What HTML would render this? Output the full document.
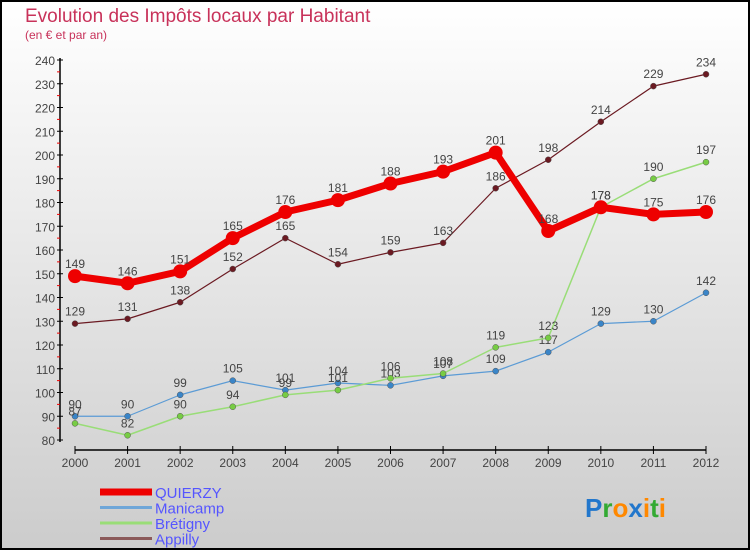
<!DOCTYPE html>
<html><head><meta charset="utf-8"><style>
body{margin:0}
#c{width:750px;height:550px;position:relative;overflow:hidden;box-sizing:border-box;border:2px solid #000;background:linear-gradient(#fff,#cccccc);font-family:"Liberation Sans",sans-serif}
</style></head><body>
<div id="c">
<svg id="s" width="750" height="550" style="position:absolute;left:-2px;top:-2px">
<text x="25" y="22" font-size="19" fill="#c8325a">Evolution des Impôts locaux par Habitant</text>
<text x="25" y="39" font-size="12" fill="#c8325a">(en € et par an)</text>
</svg>
</div>
<script>
const years=[2000,2001,2002,2003,2004,2005,2006,2007,2008,2009,2010,2011,2012];
const yTicks=[80,90,100,110,120,130,140,150,160,170,180,190,200,210,220,230,240];
const quierzy=[149,146,151,165,176,181,188,193,201,168,178,175,176];
const manicamp=[90,90,99,105,101,104,103,107,109,117,129,130,142];
const bretigny=[87,82,90,94,99,101,106,108,119,123,178,190,197];
const appilly=[129,131,138,152,165,154,159,163,186,198,214,229,234];
const svg=document.getElementById('s');const NS='http://www.w3.org/2000/svg';
function X(i){return 75+i*(706-75)/12}
function Y(v){return 440-(v-80)*380/160}
function mk(t,a,p){const e=document.createElementNS(NS,t);for(const k in a)e.setAttribute(k,a[k]);(p||svg).appendChild(e);return e}
let ya=mk('line',{x1:60,y1:58,x2:60,y2:442,stroke:'#000','stroke-width':1.5});


yTicks.forEach((v,i)=>{
 mk('line',{x1:57,x2:63,y1:Y(v),y2:Y(v),stroke:'#000'});
 if(i<yTicks.length-1)mk('line',{x1:57,x2:60,y1:Y(v+5),y2:Y(v+5),stroke:'#e00'});
 const t=mk('text',{x:55,y:Y(v)+5,'text-anchor':'end','font-size':12,fill:'#444'});t.textContent=v;
 
 
});
let xa=mk('line',{x1:75,y1:450,x2:706,y2:450,stroke:'#000','stroke-width':1.5});


years.forEach((y,i)=>{
 mk('line',{x1:X(i),x2:X(i),y1:446,y2:454,stroke:'#000'});
 const t=mk('text',{x:X(i),y:467,'text-anchor':'middle','font-size':12,fill:'#444'});t.textContent=y;
 
 
});
function series(d,col,w,r,mcol,name){
 const g=mk('g',{});
 
 
 mk('polyline',{points:d.map((v,i)=>X(i)+','+Y(v)).join(' '),fill:'none',stroke:col,'stroke-width':w,'stroke-linejoin':'round'},g);
 d.forEach((v,i)=>{
  const c=mk('circle',{cx:X(i),cy:Y(v),r:r,fill:mcol,stroke:r>4?'none':'#555','stroke-width':0.5},g);
  
  
  const t=mk('text',{x:X(i),y:Y(v)-8,'text-anchor':'middle','font-size':12,fill:'#444'},g);t.textContent=v;
 });
}
series(appilly,'#6b1a22',1.2,3,'#6b1a22','appilly');
series(manicamp,'#5b9bd5',1.2,3,'#3a85c8','manicamp');
series(bretigny,'#99dd77',1.5,3,'#77cc44','bretigny');
series(quierzy,'#ee0000',7,7,'#ee0000','quierzy');
const leg=[['QUIERZY','#ee0000',7],['Manicamp','#6ea6d8',3],['Brétigny','#99dd77',3],['Appilly','#8b5a5a',3]];
leg.forEach((l,i)=>{
 const y=492+i*15.5;
 const g=mk('g',{});
 
 
 mk('line',{x1:100,x2:152,y1:y,y2:y,stroke:l[1],'stroke-width':l[2]},g);
 const t=mk('text',{x:155,y:y+6,'font-size':15,fill:'#5555ff'},g);t.textContent=l[0];
});
const lg=mk('text',{x:585,y:517,'font-size':26,'font-weight':'bold'});


[['P','#2277cc'],['r','#33aa33'],['o','#ff8800'],['x','#2277cc'],['i','#ff8800'],['t','#33aa33'],['i','#ff8800']].forEach(p=>{const s=mk('tspan',{fill:p[1]},lg);s.textContent=p[0];});
</script>
</body></html>
